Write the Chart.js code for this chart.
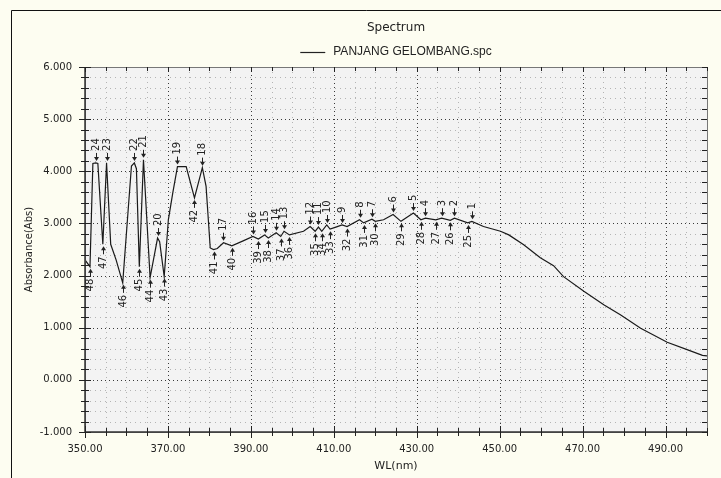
<!DOCTYPE html>
<html>
<head>
<meta charset="utf-8">
<script src="https://cdn.jsdelivr.net/npm/chart.js@4.4.1/dist/chart.umd.min.js"></script>
<style>
html,body{margin:0;padding:0;background:#fdfdf1;}
canvas{display:block;}
</style>
</head>
<body>
<canvas id="c" width="721" height="478"></canvas>
<script>
// ---- data ----
const chartTitle = "Spectrum";
const seriesName = "PANJANG GELOMBANG.spc";
const xTitle = "WL(nm)";
const yTitle = "Absorbance(Abs)";
const xTickVals = [350, 370, 390, 410, 430, 450, 470, 490];
const yTickVals = [-1, 0, 1, 2, 3, 4, 5, 6];

const wl = [350.0,351.2,351.9,352.6,353.1,354.3,355.2,356.2,357.5,359.1,
  361.2,361.9,362.4,363.1,364.1,365.7,367.5,368.0,369.1,370.1,
  371.2,372.3,374.4,376.4,378.3,379.2,380.2,381.0,381.9,383.4,
  385.4,388.0,390.5,391.8,393.3,394.2,396.1,397.2,398.0,399.3,
  402.7,404.3,405.5,406.3,407.1,408.3,409.1,410.5,412.0,413.2,
  416.2,417.2,419.2,420.0,422.0,424.3,426.2,429.2,431.0,432.1,
  434.6,436.0,438.1,439.1,442.3,443.3,446.1,450.2,452.2,455.8,
  459.8,463.0,465.4,470.3,475.1,479.1,484.0,490.4,495.2,498.9,500.0];
const absorb = [2.30,2.17,4.15,4.16,4.15,2.60,4.16,2.60,2.30,1.86,
  4.10,4.16,4.05,2.17,4.22,1.96,2.72,2.65,1.98,3.07,
  3.60,4.09,4.09,3.49,4.07,3.71,2.53,2.50,2.52,2.63,
  2.57,2.66,2.75,2.70,2.78,2.72,2.82,2.75,2.85,2.78,
  2.85,2.94,2.85,2.93,2.85,2.97,2.89,2.93,2.97,2.94,
  3.07,3.01,3.08,3.04,3.07,3.17,3.04,3.20,3.07,3.10,
  3.07,3.10,3.06,3.10,3.01,3.04,2.94,2.85,2.78,2.59,
  2.34,2.19,1.98,1.70,1.44,1.25,0.99,0.72,0.58,0.47,0.46];

const peakNo = [1,2,3,4,5,6,7,8,9,10,11,12,13,14,15,16,17,18,19,20,21,22,23,24];
const peakWl = [443.3,439.1,436.0,432.1,429.2,424.3,419.2,416.2,412.0,408.3,406.3,404.3,
  398.0,396.1,393.3,390.5,383.4,378.3,372.3,367.5,364.1,361.9,355.2,352.6];
const valleyNo = [25,26,27,28,29,30,31,32,33,34,35,36,37,38,39,40,41,42,43,44,45,46,47,48];
const valleyWl = [442.3,438.1,434.6,431.0,426.2,420.0,417.2,413.2,409.1,407.1,405.5,399.3,
  397.2,394.2,391.8,385.4,381.0,376.4,369.1,365.7,363.1,359.1,354.3,351.2];

// ---- styling ----
const FONT = "'DejaVu Sans', Verdana, sans-serif";
const points = wl.map((w, i) => ({x: w, y: absorb[i]}));
function valueAt(w) { const i = wl.indexOf(w); return absorb[i]; }

const decor = {
  id: 'decor',
  beforeDraw(chart) {
    const ctx = chart.ctx, a = chart.chartArea;
    ctx.save();
    ctx.fillStyle = '#fdfdf1';
    ctx.fillRect(0, 0, chart.width, chart.height);
    ctx.strokeStyle = '#111';
    ctx.lineWidth = 1;
    ctx.beginPath();
    ctx.moveTo(11.5, chart.height); ctx.lineTo(11.5, 10.5); ctx.lineTo(chart.width, 10.5);
    ctx.stroke();
    ctx.fillStyle = '#f3f3f3';
    ctx.fillRect(a.left, a.top, a.right - a.left, a.bottom - a.top);
    ctx.restore();
  },
  beforeDatasetsDraw(chart) {
    const ctx = chart.ctx, a = chart.chartArea, sx = chart.scales.x, sy = chart.scales.y;
    ctx.save();
    ctx.lineWidth = 1;
    // minor grid
    ctx.strokeStyle = '#b4b4b4';
    ctx.setLineDash([1, 4]);
    for (let i = 1; i < 30; i++) {
      const v = 350 + 5 * i; if ((v - 350) % 20 === 0) continue;
      const px = Math.round(sx.getPixelForValue(v)) + 0.5;
      ctx.beginPath(); ctx.moveTo(px, a.top); ctx.lineTo(px, a.bottom); ctx.stroke();
    }
    for (let i = 1; i < 35; i++) {
      if (i % 5 === 0) continue;
      const py = Math.round(sy.getPixelForValue(-1 + i * 0.2)) + 0.5;
      ctx.beginPath(); ctx.moveTo(a.left, py); ctx.lineTo(a.right, py); ctx.stroke();
    }
    // major grid
    ctx.strokeStyle = '#3a3a3a';
    ctx.setLineDash([1, 3]);
    xTickVals.forEach(v => {
      if (v === 350) return;
      const px = Math.round(sx.getPixelForValue(v)) + 0.5;
      ctx.beginPath(); ctx.moveTo(px, a.top); ctx.lineTo(px, a.bottom); ctx.stroke();
    });
    yTickVals.forEach(v => {
      if (v === -1 || v === 6) return;
      const py = Math.round(sy.getPixelForValue(v)) + 0.5;
      ctx.beginPath(); ctx.moveTo(a.left, py); ctx.lineTo(a.right, py); ctx.stroke();
    });
    ctx.restore();
  },
  afterDatasetsDraw(chart) {
    const ctx = chart.ctx, a = chart.chartArea, sx = chart.scales.x, sy = chart.scales.y;
    ctx.save();
    ctx.setLineDash([]);
    // frame
    ctx.strokeStyle = '#777';
    ctx.lineWidth = 1;
    ctx.strokeRect(Math.round(a.left) + 0.5, Math.round(a.top) + 0.5, Math.round(a.right - a.left), Math.round(a.bottom - a.top));
    ctx.strokeStyle = '#333';
    ctx.lineWidth = 1.5;
    ctx.beginPath();
    ctx.moveTo(a.left, a.top); ctx.lineTo(a.left, a.bottom); ctx.lineTo(a.right, a.bottom);
    ctx.stroke();
    // ticks
    ctx.lineWidth = 1;
    ctx.strokeStyle = '#222';
    for (let i = 0; i <= 30; i++) {
      const v = 350 + 5 * i;
      const major = (v - 350) % 20 === 0;
      const px = Math.round(sx.getPixelForValue(v)) + 0.5;
      ctx.beginPath();
      ctx.moveTo(px, a.bottom - (major ? 6 : 4)); ctx.lineTo(px, a.bottom + (major ? 6 : 4));
      ctx.moveTo(px, a.top); ctx.lineTo(px, a.top + (major ? 5 : 4));
      ctx.stroke();
    }
    for (let i = 0; i <= 35; i++) {
      const major = i % 5 === 0;
      const py = Math.round(sy.getPixelForValue(-1 + i * 0.2)) + 0.5;
      ctx.beginPath();
      ctx.moveTo(a.left - (major ? 6 : 4), py); ctx.lineTo(a.left + (major ? 6 : 4), py);
      ctx.moveTo(a.right, py); ctx.lineTo(a.right - 5, py);
      ctx.stroke();
    }
    // peak / valley marks
    ctx.fillStyle = '#222';
    ctx.strokeStyle = '#222';
    ctx.font = "10px " + FONT;
    ctx.textBaseline = 'middle';
    function mark(w, no, up) {
      const px = Math.round(sx.getPixelForValue(w)) + 0.5;
      const py = sy.getPixelForValue(valueAt(w));
      const s = up ? -1 : 1; // up = peak (mark above curve)
      const tip = py + s * 2, base = py + s * 10;
      ctx.beginPath(); ctx.moveTo(px, base); ctx.lineTo(px, tip + s * 3); ctx.stroke();
      ctx.beginPath(); ctx.moveTo(px, tip); ctx.lineTo(px - 2.5, tip + s * 4); ctx.lineTo(px + 2.5, tip + s * 4); ctx.closePath(); ctx.fill();
      ctx.save();
      ctx.translate(px, base + s * 2);
      ctx.rotate(-Math.PI / 2);
      ctx.textAlign = up ? 'left' : 'right';
      ctx.fillText(String(no), 0, 0);
      ctx.restore();
    }
    peakWl.forEach((w, i) => mark(w, peakNo[i], true));
    valleyWl.forEach((w, i) => mark(w, valleyNo[i], false));
    // title and legend
    const cx = (a.left + a.right) / 2;
    ctx.fillStyle = '#222';
    ctx.textAlign = 'center';
    ctx.font = "12px " + FONT;
    ctx.fillText(chartTitle, cx, 28);
    ctx.font = "12px 'Liberation Sans', Arial, sans-serif";
    const tw = ctx.measureText(seriesName).width;
    const lineW = 25, gap = 8;
    const startX = cx - (lineW + gap + tw) / 2;
    ctx.strokeStyle = '#222';
    ctx.lineWidth = 1.2;
    ctx.beginPath(); ctx.moveTo(startX, 52.5); ctx.lineTo(startX + lineW, 52.5); ctx.stroke();
    ctx.textAlign = 'left';
    ctx.fillText(seriesName, startX + lineW + gap, 52);
    ctx.restore();
  }
};

new Chart(document.getElementById('c'), {
  type: 'line',
  data: {
    datasets: [{
      label: seriesName,
      data: points,
      borderColor: '#1a1a1a',
      borderWidth: 1.2,
      pointRadius: 0,
      tension: 0,
      fill: false
    }]
  },
  options: {
    responsive: false,
    animation: false,
    devicePixelRatio: 1,
    layout: { padding: { left: 0, right: 14, top: 67, bottom: 0 } },
    plugins: { legend: { display: false }, title: { display: false }, tooltip: { enabled: false } },
    scales: {
      x: {
        type: 'linear', min: 350, max: 500,
        grid: { display: false, drawTicks: false },
        border: { display: false },
        afterBuildTicks: s => { s.ticks = xTickVals.map(v => ({ value: v })); },
        afterFit: s => { s.height = 46; },
        ticks: { autoSkip: false, maxRotation: 0, minRotation: 0, padding: 11,
          color: '#222', font: { family: FONT, size: 10 },
          callback: v => Number(v).toFixed(2) },
        title: { display: true, text: xTitle, color: '#222', font: { family: FONT, size: 11 }, padding: { top: 0, bottom: 5 } }
      },
      y: {
        type: 'linear', min: -1, max: 6,
        grid: { display: false, drawTicks: false },
        border: { display: false },
        afterBuildTicks: s => { s.ticks = yTickVals.map(v => ({ value: v })); },
        afterFit: s => { s.width = 85; },
        ticks: { autoSkip: false, padding: 13, color: '#222', font: { family: FONT, size: 10 },
          callback: v => Number(v).toFixed(3) },
        title: { display: true, text: yTitle, color: '#222', font: { family: FONT, size: 10 }, padding: { top: 23, bottom: 0 } }
      }
    }
  },
  plugins: [decor]
});
</script>
</body>
</html>
